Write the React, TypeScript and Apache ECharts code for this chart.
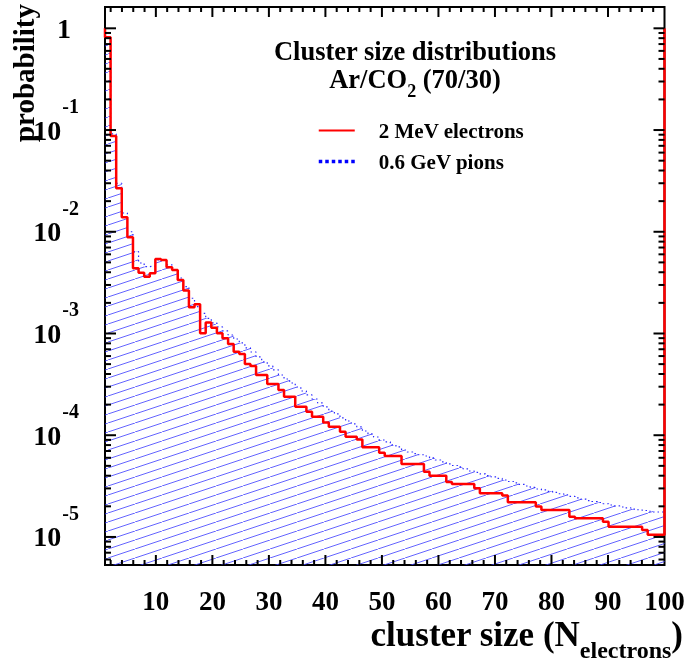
import React, { useEffect, useRef } from 'react';
import * as echarts from 'echarts';

// Histogram definition: 100 bins between cluster size 1 and 100
const HIST_MIN = 1;
const HIST_MAX = 100;
const N_BINS = 100;

// axis ranges
const X_MIN = 1;
const X_MAX = 100;
const Y_MIN = 5.3e-6;
const Y_MAX = 1.62;

// 2 MeV electrons (red step line), bins 1..100
const ELECTRONS = [
  0.816, 0.0874, 0.0268, 0.0139, 0.00882, 0.00438, 0.00396, 0.00362, 0.00391, 0.0054,
  0.00528, 0.00448, 0.00421, 0.00336, 0.00264, 0.00181, 0.00194, 0.001005, 0.00128, 0.00114,
  0.001005, 0.000897, 0.000789, 0.000663, 0.000629, 0.000502, 0.00048, 0.000391, 0.000391, 0.000319,
  0.000319, 0.000279, 0.000239, 0.000239, 0.000191, 0.000191, 0.00017, 0.000152, 0.000152, 0.000133,
  0.000121, 0.000121, 0.000108, 0.0000968, 0.0000968, 0.0000908, 0.0000761, 0.0000761, 0.0000761, 0.0000674,
  0.0000625, 0.0000625, 0.0000625, 0.0000522, 0.0000522, 0.0000522, 0.0000522, 0.0000438, 0.00004, 0.00004,
  0.00004, 0.0000347, 0.0000332, 0.0000332, 0.0000332, 0.0000332, 0.0000301, 0.0000269, 0.0000269, 0.0000269,
  0.0000269, 0.0000255, 0.0000219, 0.0000219, 0.0000219, 0.0000219, 0.0000219, 0.0000199, 0.0000184, 0.0000184,
  0.0000184, 0.0000184, 0.0000184, 0.0000158, 0.0000153, 0.0000153, 0.0000153, 0.0000153, 0.0000153, 0.0000141,
  0.0000126, 0.0000126, 0.0000126, 0.0000126, 0.0000126, 0.0000126, 0.0000117, 0.0000105, 0.0000105, 0.0000105,
];

// 0.6 GeV pions (blue dotted outline, hatched fill), bins 1..100
const PIONS = [
  0.82, 0.0915, 0.03, 0.0153, 0.01, 0.00637, 0.00493, 0.00454, 0.00461, 0.00528,
  0.0052, 0.00472, 0.00421, 0.00351, 0.00289, 0.00222, 0.00184, 0.00158, 0.00141, 0.00127,
  0.00116, 0.00106, 0.000967, 0.000883, 0.000807, 0.000721, 0.000658, 0.000588, 0.000525, 0.00048,
  0.000438, 0.000391, 0.000357, 0.000326, 0.000298, 0.000272, 0.000249, 0.000227, 0.000208, 0.00019,
  0.000173, 0.000162, 0.000148, 0.000138, 0.000129, 0.000121, 0.00011, 0.000103, 0.0000961, 0.0000898,
  0.0000859, 0.0000802, 0.0000767, 0.0000716, 0.0000684, 0.000066, 0.0000643, 0.0000625, 0.0000598, 0.0000571,
  0.0000546, 0.0000522, 0.0000504, 0.0000488, 0.0000466, 0.0000445, 0.0000431, 0.0000416, 0.0000402, 0.0000389,
  0.0000376, 0.0000363, 0.0000351, 0.000034, 0.0000328, 0.0000317, 0.0000307, 0.0000296, 0.000029, 0.0000281,
  0.0000274, 0.0000266, 0.0000259, 0.000025, 0.0000242, 0.0000235, 0.0000228, 0.0000223, 0.0000218, 0.0000212,
  0.0000206, 0.0000202, 0.0000197, 0.0000193, 0.0000188, 0.0000185, 0.0000182, 0.0000179, 0.0000176, 0.0000176,
];

const X_TICK_LABELS = [10, 20, 30, 40, 50, 60, 70, 80, 90, 100];
const X_MAJOR_TICKS = [10, 20, 30, 40, 50, 60, 70, 80, 90];
const Y_MAJOR_TICKS = [1e-5, 1e-4, 1e-3, 1e-2, 1e-1, 1];

const SERIES_NAMES = ['2 MeV electrons', '0.6 GeV pions'];
const TITLE_LINE1 = 'Cluster size distributions';
const Y_TITLE = 'probability';

const FONT = "'Liberation Serif', 'Times New Roman', Times, serif";

function stepPoints(vals: number[]) {
  const w = (HIST_MAX - HIST_MIN) / N_BINS;
  const pts: number[][] = [];
  vals.forEach((v, i) => {
    const lo = HIST_MIN + i * w;
    const hi = lo + w;
    pts.push([lo, v], [hi, v]);
  });
  return pts;
}

function minorX() {
  const out: number[] = [];
  for (let u = 2; u < X_MAX; u += 2) if (u % 10 !== 0) out.push(u);
  return out;
}
function minorY() {
  const out: number[] = [];
  for (let e = -6; e <= 0; e++) {
    for (let k = 2; k <= 9; k++) {
      const v = k * Math.pow(10, e);
      if (v > Y_MIN && v < Y_MAX) out.push(v);
    }
  }
  return out;
}

export default function App() {
  const ref = useRef<HTMLDivElement>(null);
  useEffect(() => {
    if (!ref.current) return;
    const chart = echarts.init(ref.current, null, { renderer: 'svg' });

    const cvs = document.createElement('canvas');
    cvs.width = 27;
    cvs.height = 9;
    const ctx = cvs.getContext('2d')!;
    ctx.strokeStyle = 'rgba(60,60,255,0.8)';
    ctx.lineWidth = 1;
    ctx.beginPath();
    ctx.moveTo(-27, 18);
    ctx.lineTo(54, -9);
    ctx.stroke();

    const redPts = [[HIST_MIN, 1], ...stepPoints(ELECTRONS), [HIST_MAX, 1]];
    const bluePts = stepPoints(PIONS);

    const tickData: number[][] = [
      ...X_MAJOR_TICKS.map((u) => [u, Y_MIN, 0]),
      ...minorX().map((u) => [u, Y_MIN, 1]),
      ...Y_MAJOR_TICKS.map((v) => [X_MIN, v, 2]),
      ...minorY().map((v) => [X_MIN, v, 3]),
    ];

    const tickStyle = { stroke: '#000', lineWidth: 2 };

    chart.setOption({
      animation: false,
      grid: {
        left: 105,
        top: 7,
        width: 559.5,
        height: 558,
        show: true,
        borderColor: '#000',
        borderWidth: 2,
        backgroundColor: 'transparent',
        containLabel: false,
        outerBoundsMode: 'none',
      },
      xAxis: {
        type: 'value',
        min: X_MIN,
        max: X_MAX,
        splitNumber: 10,
        axisLine: { show: false },
        axisTick: { show: false },
        splitLine: { show: false },
        axisLabel: {
          customValues: X_TICK_LABELS,
          margin: 22,
          fontSize: 27,
          fontWeight: 'bold',
          fontFamily: FONT,
          color: '#000',
        },
      },
      yAxis: {
        type: 'log',
        logBase: 10,
        min: Y_MIN,
        max: Y_MAX,
        axisLine: { show: false },
        axisTick: { show: false },
        splitLine: { show: false },
        minorTick: { show: false },
        axisLabel: {
          showMinLabel: false,
          showMaxLabel: false,
          margin: 26,
          formatter: (v: number) => {
            const e = Math.round(Math.log10(v));
            return e === 0 ? '{one|1}' : `{b|10}{e|${e}}`;
          },
          rich: {
            b: { fontSize: 28, lineHeight: 28, fontWeight: 'bold', fontFamily: FONT, color: '#000', verticalAlign: 'bottom' },
            e: { fontSize: 20, lineHeight: 20, fontWeight: 'bold', fontFamily: FONT, color: '#000', verticalAlign: 'bottom', padding: [0, 0, 28, 1] },
            one: { fontSize: 28, lineHeight: 28, fontWeight: 'bold', fontFamily: FONT, color: '#000', padding: [0, 8, 0, 0] },
          },
        },
      },
      legend: {
        data: [
          { name: SERIES_NAMES[0], lineStyle: { color: '#ff0000', width: 2, type: 'solid' }, itemStyle: { opacity: 0 } },
          { name: SERIES_NAMES[1], lineStyle: { color: '#0000ff', width: 3.5, type: [3.5, 3] }, itemStyle: { opacity: 0 } },
        ],
        orient: 'vertical',
        left: 312,
        top: 115,
        itemWidth: 36,
        itemHeight: 20,
        itemGap: 10,
        selectedMode: false,
        textStyle: {
          fontSize: 21,
          lineHeight: 20,
          fontWeight: 'bold',
          fontFamily: FONT,
          color: '#000',
          padding: [0, 0, 0, 19],
        },
      },
      graphic: [
        {
          type: 'text',
          x: 415,
          y: 51,
          style: {
            text: TITLE_LINE1,
            fontSize: 26.5,
            fontWeight: 'bold',
            fontFamily: FONT,
            fill: '#000',
            align: 'center',
            verticalAlign: 'middle',
          },
        },
        {
          type: 'text',
          x: 415,
          y: 87,
          style: {
            text: '{a|Ar/CO}{s|2}{a| (70/30)}',
            align: 'center',
            verticalAlign: 'middle',
            rich: {
              a: { fontSize: 26.5, lineHeight: 26, fontWeight: 'bold', fontFamily: FONT, fill: '#000', verticalAlign: 'bottom', padding: [0, 0, 8, 0] },
              s: { fontSize: 18, lineHeight: 18, fontWeight: 'bold', fontFamily: FONT, fill: '#000', verticalAlign: 'bottom' },
            },
          },
        },
        {
          type: 'text',
          x: 24,
          y: 73,
          rotation: Math.PI / 2,
          style: {
            text: Y_TITLE,
            fontSize: 29,
            fontWeight: 'bold',
            fontFamily: FONT,
            fill: '#000',
            align: 'center',
            verticalAlign: 'middle',
          },
        },
        {
          type: 'text',
          x: 683,
          y: 662,
          style: {
            text: '{a|cluster size (N}{s|electrons}{a|)}',
            align: 'right',
            verticalAlign: 'bottom',
            rich: {
              a: { fontSize: 35, lineHeight: 35, fontWeight: 'bold', fontFamily: FONT, fill: '#000', verticalAlign: 'bottom', padding: [0, 0, 10, 0] },
              s: { fontSize: 24, lineHeight: 24, fontWeight: 'bold', fontFamily: FONT, fill: '#000', verticalAlign: 'bottom' },
            },
          },
        },
      ],
      series: [
        {
          name: SERIES_NAMES[1],
          type: 'line',
          data: bluePts,
          showSymbol: false,
          symbol: 'none',
          z: 2,
          lineStyle: { color: '#2a2aff', width: 1.2, type: [1.5, 3] },
          areaStyle: {
            origin: 'start',
            color: { image: cvs, repeat: 'repeat', imageWidth: 27, imageHeight: 9 },
            opacity: 1,
          },
        },
        {
          name: SERIES_NAMES[0],
          type: 'line',
          data: redPts,
          showSymbol: false,
          symbol: 'none',
          z: 4,
          lineStyle: { color: '#ff0000', width: 2.5 },
        },
        {
          type: 'custom',
          z: 6,
          silent: true,
          clip: false,
          encode: { x: 0, y: 1 },
          data: tickData,
          renderItem: (params: any, api: any) => {
            const kind = api.value(2);
            if (kind < 2) {
              const u = api.value(0);
              const b = api.coord([u, Y_MIN]);
              const t = api.coord([u, Y_MAX]);
              const len = kind === 0 ? 10 : 5;
              return {
                type: 'group',
                children: [
                  { type: 'line', shape: { x1: b[0], y1: b[1], x2: b[0], y2: b[1] - len }, style: tickStyle },
                  { type: 'line', shape: { x1: t[0], y1: t[1], x2: t[0], y2: t[1] + len }, style: tickStyle },
                ],
              };
            }
            const v = api.value(1);
            const l = api.coord([X_MIN, v]);
            const r = api.coord([X_MAX, v]);
            const len = kind === 2 ? 11 : 6;
            return {
              type: 'group',
              children: [
                { type: 'line', shape: { x1: l[0], y1: l[1], x2: l[0] + len, y2: l[1] }, style: tickStyle },
                { type: 'line', shape: { x1: r[0], y1: r[1], x2: r[0] - len, y2: r[1] }, style: tickStyle },
              ],
            };
          },
        },
      ],
    });
    return () => chart.dispose();
  }, []);
  return <div ref={ref} style={{ position: 'fixed', left: 0, top: 0, width: 688, height: 665 }} />;
}
